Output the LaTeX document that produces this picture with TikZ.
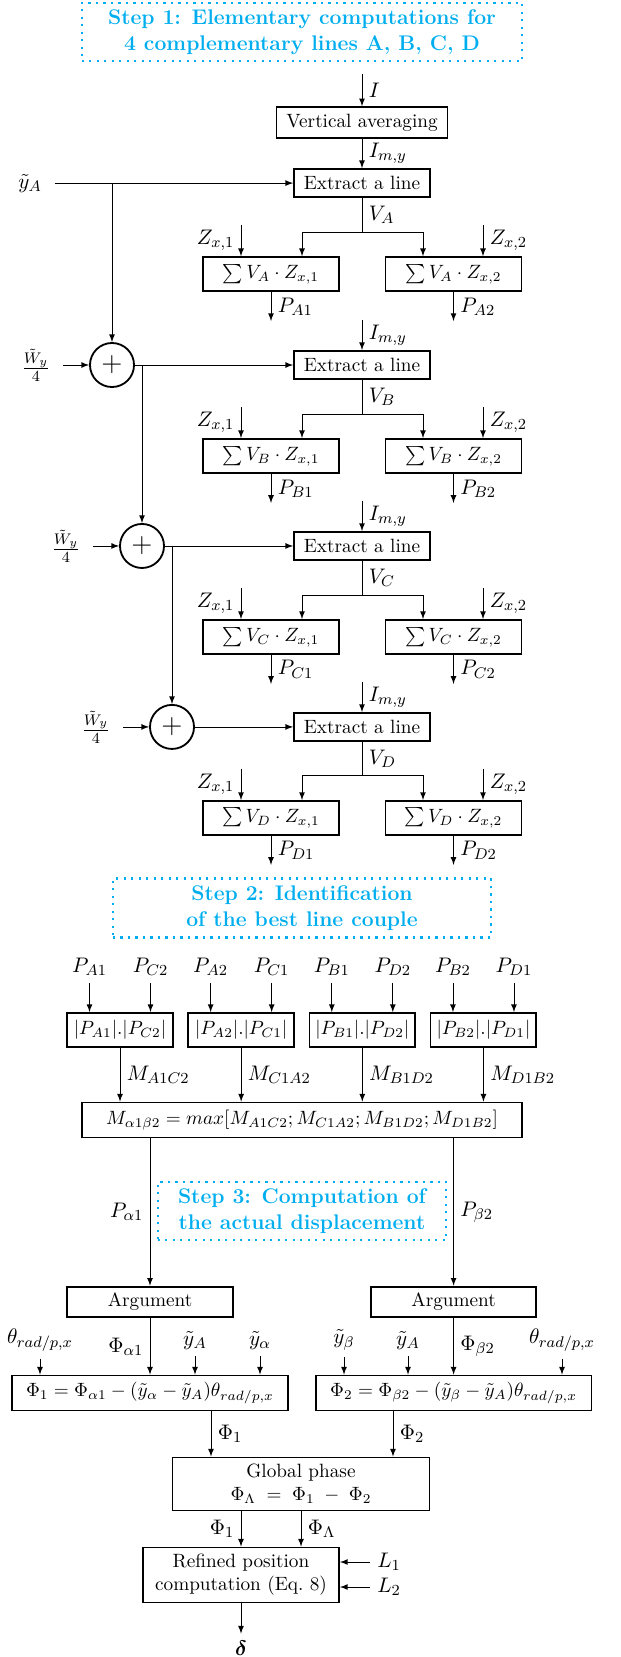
\documentclass[tikz,border=0pt]{standalone}
\usepackage{amsmath}
\usepackage{tikz}
\usetikzlibrary{arrows,shapes,positioning,calc}
\definecolor{stepcyan}{RGB}{0,174,239}

\begin{document}
\begin{tikzpicture}[x=0.52pt,y=-0.52pt,>=latex,font=\fontsize{11.3}{13.6}\selectfont,
	Edge/.style={->,black},
	Box/.style={rectangle,fill=white,draw=black,line width=0.95pt,inner sep=2pt,font=\normalsize},
	ExtBox/.style={Box,minimum width=70.7pt,minimum height=14.6pt},
	SumBox/.style={Box,minimum width=70.7pt,minimum height=17.7pt},
	ProdBox/.style={Box,minimum width=55pt,minimum height=17.7pt},
	ArgBox/.style={Box,minimum width=86pt,minimum height=16pt},
	PhiBox/.style={Box,minimum width=143.5pt,minimum height=18.2pt},
	Plus/.style={circle,draw=black,line width=0.95pt,minimum size=22.9pt,inner sep=0pt,font=\Large},
	Step/.style={rectangle,draw=stepcyan,text=stepcyan,line width=1.1pt,dash pattern=on 1.1pt off 2.8pt,align=center,font=\fontsize{11}{13.6}\selectfont\bfseries},
	InLbl/.style={inner sep=3.5pt},
	SrcLbl/.style={inner xsep=6.5pt},
]
	\useasboundingbox (0,0) rectangle (620,1657);

	% step 1
	\node[Step,minimum width=229pt,minimum height=30pt] (S1) at (302,32) {Step 1: Elementary computations for\\4 complementary lines A, B, C, D};
	\node[Box,minimum width=89pt,minimum height=16pt] (VA) at (362,122.5) {Vertical averaging};
	\coordinate (I) at (362,74);

	\node[ExtBox] (EA)[below of=VA,node distance=31.5pt]{Extract a line};
	\node[ExtBox] (EB)[below of=EA,node distance=94.6pt]{Extract a line};
	\node[ExtBox] (EC)[below of=EB,node distance=94.1pt]{Extract a line};
	\node[ExtBox] (ED)[below of=EC,node distance=94.1pt]{Extract a line};

	\node[SumBox] (SA1) at ($(EA)+(-91,91)$) {$\sum V_A\cdot Z_{x,1}$};
	\node[SumBox] (SA2) at ($(EA)+(91.5,91)$) {$\sum V_A\cdot Z_{x,2}$};
	\node[SumBox] (SB1) at ($(EB)+(-91,91)$) {$\sum V_B\cdot Z_{x,1}$};
	\node[SumBox] (SB2) at ($(EB)+(91.5,91)$) {$\sum V_B\cdot Z_{x,2}$};
	\node[SumBox] (SC1) at ($(EC)+(-91,91)$) {$\sum V_C\cdot Z_{x,1}$};
	\node[SumBox] (SC2) at ($(EC)+(91.5,91)$) {$\sum V_C\cdot Z_{x,2}$};
	\node[SumBox] (SD1) at ($(ED)+(-91,91)$) {$\sum V_D\cdot Z_{x,1}$};
	\node[SumBox] (SD2) at ($(ED)+(91.5,91)$) {$\sum V_D\cdot Z_{x,2}$};

	\node[Plus] (C1)[left of=EB,node distance=130pt]{$+$};
	\node[Plus] (C2)[left of=EC,node distance=114.4pt]{$+$};
	\node[Plus] (C3)[left of=ED,node distance=98.8pt]{$+$};
	\node[SrcLbl] (yA)[left of=EA,node distance=172.6pt]{$\tilde{y}_A$};
	\node[SrcLbl] (W1)[left of=C1,node distance=39.5pt]{$\frac{\tilde{W}_y}{4}$};
	\node[SrcLbl] (W2)[left of=C2,node distance=39.5pt]{$\frac{\tilde{W}_y}{4}$};
	\node[SrcLbl] (W3)[left of=C3,node distance=39.5pt]{$\frac{\tilde{W}_y}{4}$};

	\coordinate (IB) at ($(EB.north)+(0,-30)$);
	\coordinate (IC) at ($(EC.north)+(0,-30)$);
	\coordinate (ID) at ($(ED.north)+(0,-30)$);
	\coordinate (vA) at ($(EA.south)+(0,34)$);
	\coordinate (vB) at ($(EB.south)+(0,34)$);
	\coordinate (vC) at ($(EC.south)+(0,34)$);
	\coordinate (vD) at ($(ED.south)+(0,34)$);

	\path[Edge]
	(I) edge node[right]{$I$} (VA)
	(VA) edge node[right]{$I_{m,y}$} (EA)
	(IB) edge node[right]{$I_{m,y}$} (EB)
	(IC) edge node[right]{$I_{m,y}$} (EC)
	(ID) edge node[right]{$I_{m,y}$} (ED)
	(yA) edge (EA)
	(C1 |- EA) edge (C1)
	(W1) edge (C1)
	(C1) edge (EB)
	(C2 |- C1) edge (C2)
	(W2) edge (C2)
	(C2) edge (EC)
	(C3 |- C2) edge (C3)
	(W3) edge (C3)
	(C3) edge (ED)
	;

	% line A
	\draw (EA) -- node[right]{$V_A$} (vA);
	\draw[Edge] (vA) -| ($(SA1.north)+(31,0)$);
	\draw[Edge] (vA) -| ($(SA2.north)+(-30.5,0)$);
	\draw[Edge] ($(SA1.north)+(-30,-31)$) -- node[left]{$Z_{x,1}$} ($(SA1.north)+(-30,0)$);
	\draw[Edge] ($(SA2.north)+(29.5,-31)$) -- node[right]{$Z_{x,2}$} ($(SA2.north)+(29.5,0)$);
	\draw[Edge] (SA1) -- node[right]{$P_{A1}$} ($(SA1.south)+(0,29)$);
	\draw[Edge] (SA2) -- node[right]{$P_{A2}$} ($(SA2.south)+(0,29)$);
	% line B
	\draw (EB) -- node[right]{$V_B$} (vB);
	\draw[Edge] (vB) -| ($(SB1.north)+(31,0)$);
	\draw[Edge] (vB) -| ($(SB2.north)+(-30.5,0)$);
	\draw[Edge] ($(SB1.north)+(-30,-31)$) -- node[left]{$Z_{x,1}$} ($(SB1.north)+(-30,0)$);
	\draw[Edge] ($(SB2.north)+(29.5,-31)$) -- node[right]{$Z_{x,2}$} ($(SB2.north)+(29.5,0)$);
	\draw[Edge] (SB1) -- node[right]{$P_{B1}$} ($(SB1.south)+(0,29)$);
	\draw[Edge] (SB2) -- node[right]{$P_{B2}$} ($(SB2.south)+(0,29)$);
	% line C
	\draw (EC) -- node[right]{$V_C$} (vC);
	\draw[Edge] (vC) -| ($(SC1.north)+(31,0)$);
	\draw[Edge] (vC) -| ($(SC2.north)+(-30.5,0)$);
	\draw[Edge] ($(SC1.north)+(-30,-31)$) -- node[left]{$Z_{x,1}$} ($(SC1.north)+(-30,0)$);
	\draw[Edge] ($(SC2.north)+(29.5,-31)$) -- node[right]{$Z_{x,2}$} ($(SC2.north)+(29.5,0)$);
	\draw[Edge] (SC1) -- node[right]{$P_{C1}$} ($(SC1.south)+(0,29)$);
	\draw[Edge] (SC2) -- node[right]{$P_{C2}$} ($(SC2.south)+(0,29)$);
	% line D
	\draw (ED) -- node[right]{$V_D$} (vD);
	\draw[Edge] (vD) -| ($(SD1.north)+(31,0)$);
	\draw[Edge] (vD) -| ($(SD2.north)+(-30.5,0)$);
	\draw[Edge] ($(SD1.north)+(-30,-31)$) -- node[left]{$Z_{x,1}$} ($(SD1.north)+(-30,0)$);
	\draw[Edge] ($(SD2.north)+(29.5,-31)$) -- node[right]{$Z_{x,2}$} ($(SD2.north)+(29.5,0)$);
	\draw[Edge] (SD1) -- node[right]{$P_{D1}$} ($(SD1.south)+(0,29)$);
	\draw[Edge] (SD2) -- node[right]{$P_{D2}$} ($(SD2.south)+(0,29)$);

	% step 2
	\node[Step,minimum width=196.6pt,minimum height=30.7pt] (S2) at (302,908) {Step 2: Identification\\of the best line couple};
	\node[ProdBox] (MAC) at (120,1030) {$|P_{A1}|.|P_{C2}|$};
	\node[ProdBox] (MCA)[right of=MAC,node distance=63pt]{$|P_{A2}|.|P_{C1}|$};
	\node[ProdBox] (MBD)[right of=MCA,node distance=63pt]{$|P_{B1}|.|P_{D2}|$};
	\node[ProdBox] (MDB)[right of=MBD,node distance=63pt]{$|P_{B2}|.|P_{D1}|$};
	\node[InLbl] (lA1) at ($(MAC)+(-30.5,-63)$) {$P_{A1}$};
	\node[InLbl] (lC2) at ($(MAC)+(30.5,-63)$) {$P_{C2}$};
	\node[InLbl] (lA2) at ($(MCA)+(-30.5,-63)$) {$P_{A2}$};
	\node[InLbl] (lC1) at ($(MCA)+(30.5,-63)$) {$P_{C1}$};
	\node[InLbl] (lB1) at ($(MBD)+(-30.5,-63)$) {$P_{B1}$};
	\node[InLbl] (lD2) at ($(MBD)+(30.5,-63)$) {$P_{D2}$};
	\node[InLbl] (lB2) at ($(MDB)+(-30.5,-63)$) {$P_{B2}$};
	\node[InLbl] (lD1) at ($(MDB)+(30.5,-63)$) {$P_{D1}$};
	\node[Box,minimum width=229pt,minimum height=18.2pt] (MX) at (302,1120) {$M_{\alpha 1\beta 2}=max[M_{A1C2};M_{C1A2};M_{B1D2};M_{D1B2}]$};

	\path[Edge]
	(lA1) edge (lA1 |- MAC.north)
	(lC2) edge (lC2 |- MAC.north)
	(lA2) edge (lA2 |- MCA.north)
	(lC1) edge (lC1 |- MCA.north)
	(lB1) edge (lB1 |- MBD.north)
	(lD2) edge (lD2 |- MBD.north)
	(lB2) edge (lB2 |- MDB.north)
	(lD1) edge (lD1 |- MDB.north)
	(MAC) edge node[right]{$M_{A1C2}$} (MAC |- MX.north)
	(MCA) edge node[right]{$M_{C1A2}$} (MCA |- MX.north)
	(MBD) edge node[right]{$M_{B1D2}$} (MBD |- MX.north)
	(MDB) edge node[right]{$M_{D1B2}$} (MDB |- MX.north)
	;

	% step 3
	\node[Step,minimum width=150pt,minimum height=30pt] (S3) at (302,1211) {Step 3: Computation of\\the actual displacement};
	\node[ArgBox] (AR1) at (150,1302) {Argument};
	\node[ArgBox] (AR2) at (453.6,1302) {Argument};
	\node[PhiBox] (PH1) at (150,1393) {$\Phi_1=\Phi_{\alpha 1}-(\tilde{y}_\alpha-\tilde{y}_A)\theta_{rad/p,x}$};
	\node[PhiBox] (PH2) at (453.6,1393) {$\Phi_2=\Phi_{\beta 2}-(\tilde{y}_\beta-\tilde{y}_A)\theta_{rad/p,x}$};
	\node[InLbl] (t1) at (40,1340) {$\theta_{rad/p,x}$};
	\node[InLbl] (ya1) at (195,1340) {$\tilde{y}_A$};
	\node[InLbl] (yal) at (260,1340) {$\tilde{y}_\alpha$};
	\node[InLbl] (ybe) at (344,1340) {$\tilde{y}_\beta$};
	\node[InLbl] (ya2) at (408,1340) {$\tilde{y}_A$};
	\node[InLbl] (t2) at (562,1340) {$\theta_{rad/p,x}$};
	\node[Box,minimum width=133.6pt,minimum height=27.6pt,align=center] (GP) at (301,1484) {Global phase\\$\Phi_\Lambda\;=\;\Phi_1\;-\;\Phi_2$};
	\coordinate (g1) at ($(GP.north)+(-90,0)$);
	\coordinate (g2) at ($(GP.north)+(92,0)$);
	\node[Box,minimum width=102pt,minimum height=28.6pt,align=center] (RP) at (241,1575) {Refined position\\computation (Eq.~8)};
	\node[InLbl] (L1) at (389,1562) {$L_1$};
	\node[InLbl] (L2) at (389,1587) {$L_2$};
	\node[InLbl] (dl) at (241,1648) {$\boldsymbol{\delta}$};

	\path[Edge]
	(MX.south -| AR1) edge node[left]{$P_{\alpha 1}$} (AR1)
	(MX.south -| AR2) edge node[right]{$P_{\beta 2}$} (AR2)
	(AR1) edge node[left]{$\Phi_{\alpha 1}$} (PH1)
	(AR2) edge node[right]{$\Phi_{\beta 2}$} (PH2)
	(t1) edge (t1 |- PH1.north)
	(ya1) edge (ya1 |- PH1.north)
	(yal) edge (yal |- PH1.north)
	(ybe) edge (ybe |- PH2.north)
	(ya2) edge (ya2 |- PH2.north)
	(t2) edge (t2 |- PH2.north)
	(g1 |- PH1.south) edge node[right]{$\Phi_1$} (g1)
	(g2 |- PH2.south) edge node[right]{$\Phi_2$} (g2)
	(RP |- GP.south) edge node[left]{$\Phi_1$} (RP)
	(GP) edge node[right]{$\Phi_\Lambda$} (GP |- RP.north)
	(L1) edge (L1 -| RP.east)
	(L2) edge (L2 -| RP.east)
	(RP) edge (dl)
	;
\end{tikzpicture}
\end{document}
